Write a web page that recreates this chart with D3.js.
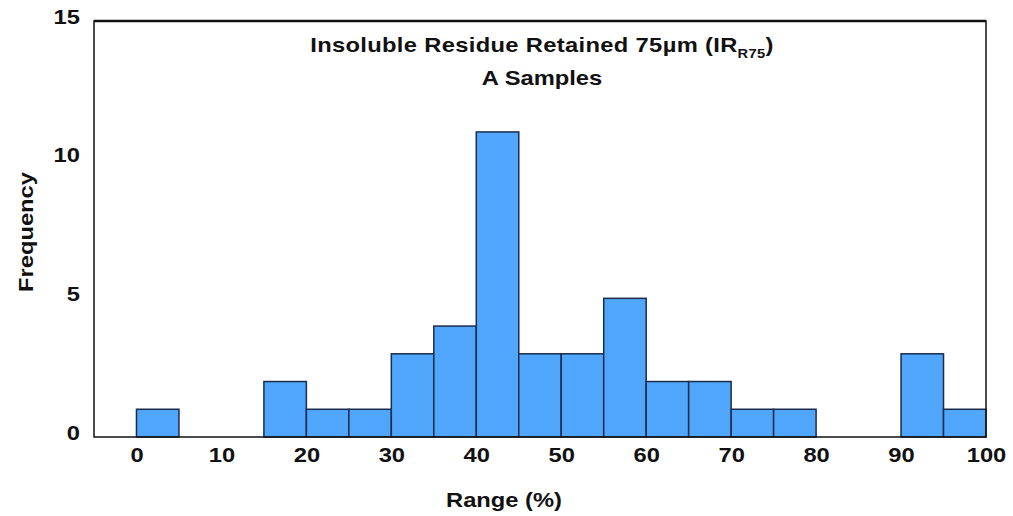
<!DOCTYPE html>
<html>
<head>
<meta charset="utf-8">
<script src="https://cdn.jsdelivr.net/npm/d3@7"></script>
<style>
  body { margin: 0; background: #fff; }
  svg text { font-family: "Liberation Sans", Arial, sans-serif; font-weight: bold; fill: #111; }
</style>
</head>
<body>
<svg id="chart" width="1013" height="516"></svg>
<script>
// Histogram bins: lower edge of each 5% bin and its count
const binStarts = [0, 5, 10, 15, 20, 25, 30, 35, 40, 45, 50, 55, 60, 65, 70, 75, 80, 85, 90, 95];
const counts    = [1, 0, 0, 2, 1, 1, 3, 4, 11, 3, 3, 5, 2, 2, 1, 1, 0, 0, 3, 1];
const binWidth = 5;
const xTicks = [0, 10, 20, 30, 40, 50, 60, 70, 80, 90, 100];
const yTicks = [0, 5, 10, 15];

const svg = d3.select("#chart");
const plotL = 94, plotR = 986, plotT = 21, plotB = 437;
const FS = 21;        // label font size
const SX = 1.13;      // slightly wide lettering

const x = d3.scaleLinear().domain([-5, 100]).range([plotL, plotR]);
const y = d3.scaleLinear().domain([0, 15]).range([plotB, plotT]);

const bins = binStarts.map((s, i) => ({ x0: s, x1: s + binWidth, n: counts[i] }));

// bars
svg.append("g").selectAll("rect")
  .data(bins.filter(d => d.n > 0))
  .join("rect")
  .attr("x", d => x(d.x0))
  .attr("y", d => y(d.n))
  .attr("width", d => x(d.x1) - x(d.x0))
  .attr("height", d => y(0) - y(d.n))
  .attr("fill", "#4fa6fb")
  .attr("stroke", "#1b2b4b")
  .attr("stroke-width", 1.5);

// plot frame
svg.append("rect")
  .attr("x", plotL).attr("y", plotT)
  .attr("width", plotR - plotL).attr("height", plotB - plotT)
  .attr("fill", "none").attr("stroke", "#111").attr("stroke-width", 1.5);
svg.append("line")
  .attr("x1", plotL).attr("x2", plotR).attr("y1", plotT).attr("y2", plotT)
  .attr("stroke", "#111").attr("stroke-width", 2.5);

function styleTicks(sel) {
  sel.selectAll("text")
    .attr("font-size", FS).attr("fill", "#111")
    .attr("transform", `scale(${SX},1)`)
    .style("font-family", "Liberation Sans, Arial, sans-serif")
    .style("font-weight", "bold");
}

// axes (labels only, no tick marks)
const xAxis = svg.append("g")
  .attr("transform", `translate(0,${plotB})`)
  .call(d3.axisBottom(x).tickValues(xTicks).tickSize(0).tickPadding(10));
xAxis.select(".domain").remove();
styleTicks(xAxis);

const yAxis = svg.append("g")
  .attr("transform", `translate(${plotL},0)`)
  .call(d3.axisLeft(y).tickValues(yTicks).tickSize(0).tickPadding(12.5));
yAxis.select(".domain").remove();
styleTicks(yAxis);
yAxis.selectAll("text").attr("dy", "0.11em");

// helper for free-standing labels
function label(tx, ty, rot, str) {
  return svg.append("text")
    .attr("transform", `translate(${tx},${ty}) rotate(${rot}) scale(${SX},1)`)
    .attr("text-anchor", "middle").attr("font-size", FS)
    .text(str);
}

// axis titles
label(504, 507, 0, "Range (%)");
label(33, 232, -90, "Frequency");

// chart title
const t1 = label(542, 52, 0, "").attr("letter-spacing", 0.3);
t1.append("tspan").text("Insoluble Residue Retained 75µm (IR");
t1.append("tspan").attr("font-size", 13).attr("dy", 6).text("R75");
t1.append("tspan").attr("dy", -6).text(")");
label(542, 85, 0, "A Samples");
</script>
</body>
</html>
